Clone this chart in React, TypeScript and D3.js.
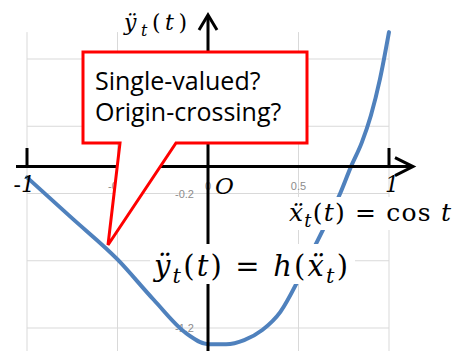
import React from "react";
import * as d3 from "d3";

// Response curve h, sampled along the horizontal axis
const xVals = [-1, -0.75, -0.5, -0.3, -0.12, 0, 0.1, 0.2, 0.3, 0.4, 0.5, 0.58, 0.65, 0.73, 0.79, 0.85, 0.9, 0.95, 1];
const yVals = [-0.08, -0.385, -0.69, -0.99, -1.24, -1.32, -1.32, -1.29, -1.215, -1.08, -0.84, -0.62, -0.43, -0.2, 0.0, 0.18, 0.38, 0.65, 1.0];

// Spreadsheet-style grid ticks
const xGrid = [-1, -0.5, 0, 0.5, 1];
const yGrid = [0.8, 0.3, -0.2, -0.7, -1.2];
// Grid tick labels that remain uncovered
const xTickLabels = [-0.5, 0, 0.5];
const yTickLabels = [-0.2, -1.2];

const calloutLines = ["Single-valued?", "Origin-crossing?"];

const W = 452;
const H = 351;

type Seg = { t: string; i?: boolean; sub?: boolean };

function MathText({ x, y, size, len, segs }: { x: number; y: number; size: number; len: number; segs: Seg[] }) {
  let prevSub = false;
  return (
    <text
      x={x}
      y={y}
      fontFamily="'DejaVu Serif', serif"
      fontSize={size}
      fill="#000"
      textLength={len}
      lengthAdjust="spacing"
    >
      {segs.map((s, k) => {
        let dy = 0;
        if (s.sub && !prevSub) dy = size * 0.25;
        if (!s.sub && prevSub) dy = -size * 0.25;
        prevSub = !!s.sub;
        return (
          <tspan key={k} dy={dy} fontStyle={s.i ? "italic" : "normal"} fontSize={s.sub ? size * 0.72 : size}>
            {s.t}
          </tspan>
        );
      })}
    </text>
  );
}

export default function App() {
  const x = d3.scaleLinear().domain([-1, 1]).range([27, 389]);
  const y = d3.scaleLinear().domain([-1.2, 0.8]).range([328, 59]);
  const top = y(1.0);

  const pts: [number, number][] = xVals.map((v, k) => [v, yVals[k]]);
  const line = d3
    .line<[number, number]>()
    .x((d) => x(d[0]))
    .y((d) => y(d[1]))
    .curve(d3.curveMonotoneX);

  const x0 = x(0);
  const y0 = y(0);
  const grid = "#d9d9d9";
  const tickGray = "#8c8c8c";

  // callout geometry
  const cL = 83, cR = 307, cT = 52, cB = 143;
  const tailA = 120, tailB = 176, tipX = 108, tipY = 245;
  const calloutPath = `M${cL},${cT} H${cR} V${cB} H${tailB} L${tipX},${tipY} L${tailA},${cB} H${cL} Z`;

  return (
    <svg width={W} height={H} style={{ position: "absolute", left: 0, top: 0, background: "#fff" }}>
      {/* grid */}
      {xGrid.map((v) => (
        <line key={"gx" + v} x1={x(v)} x2={x(v)} y1={top} y2={H} stroke={grid} strokeWidth={1} />
      ))}
      {yGrid.map((v) => (
        <line key={"gy" + v} x1={x(-1)} x2={x(1)} y1={y(v)} y2={y(v)} stroke={grid} strokeWidth={1} />
      ))}

      {/* small tick labels */}
      {xTickLabels.map((v) => (
        <text key={"tx" + v} x={x(v)} y={190} textAnchor="middle" fontFamily="'Liberation Sans', sans-serif" fontSize={11} fill={tickGray}>
          {String(v)}
        </text>
      ))}
      {yTickLabels.map((v) => (
        <text key={"ty" + v} x={194} y={y(v) + 4} textAnchor="end" fontFamily="'Liberation Sans', sans-serif" fontSize={11} fill={tickGray}>
          {v.toFixed(1)}
        </text>
      ))}

      {/* curve */}
      <path d={line(pts) || ""} fill="none" stroke="#4f81bd" strokeWidth={4} strokeLinecap="round" />

      {/* axes */}
      <line x1={16} x2={411} y1={y0} y2={y0} stroke="#000" strokeWidth={3} />
      <polyline points={`${x(1) + 6},${y0 - 9} ${413},${y0} ${x(1) + 6},${y0 + 9}`} fill="none" stroke="#000" strokeWidth={3} />
      <line x1={x0} x2={x0} y1={H} y2={17} stroke="#000" strokeWidth={3} />
      <polyline points={`${x0 - 9},${30} ${x0},${15} ${x0 + 9},${30}`} fill="none" stroke="#000" strokeWidth={3} />
      <line x1={x(-1)} x2={x(-1)} y1={148} y2={y0} stroke="#000" strokeWidth={3} />
      <line x1={x(1)} x2={x(1)} y1={148} y2={y0} stroke="#000" strokeWidth={3} />

      {/* end labels */}
      <text x={35} y={192} textAnchor="end" fontFamily="'DejaVu Serif', serif" fontSize={22} fill="#000">
        <tspan>-</tspan>
        <tspan fontStyle="italic">1</tspan>
      </text>
      <text x={392} y={192} textAnchor="middle" fontFamily="'DejaVu Serif', serif" fontStyle="italic" fontSize={22} fill="#000">
        1
      </text>
      <text x={215} y={194} fontFamily="'DejaVu Serif', serif" fontStyle="italic" fontSize={23} fill="#000">
        O
      </text>

      {/* callout */}
      <path d={calloutPath} fill="#fff" stroke="#ff0000" strokeWidth={3} strokeLinejoin="miter" />
      {calloutLines.map((s, k) => (
        <text key={s} x={95} y={90 + k * 31} fontFamily="'Open Sans', sans-serif" fontSize={25} fill="#000">
          {s}
        </text>
      ))}

      {/* formula labels */}
      <MathText
        x={124}
        y={30}
        size={22}
        len={63}
        segs={[{ t: "ÿ", i: true }, { t: "t", i: true, sub: true }, { t: "(" }, { t: "t", i: true }, { t: ")" }]}
      />

      <rect x={284} y={197} width={168} height={33} fill="#fff" />
      <MathText
        x={289}
        y={221}
        size={25}
        len={162}
        segs={[
          { t: "ẍ", i: true },
          { t: "t", i: true, sub: true },
          { t: "(" },
          { t: "t", i: true },
          { t: ") = cos " },
          { t: "t", i: true },
        ]}
      />

      <rect x={150} y={244} width={205} height={40} fill="#fff" />
      <MathText
        x={154}
        y={276}
        size={29}
        len={194}
        segs={[
          { t: "ÿ", i: true },
          { t: "t", i: true, sub: true },
          { t: "(" },
          { t: "t", i: true },
          { t: ") = " },
          { t: "h", i: true },
          { t: "(" },
          { t: "ẍ", i: true },
          { t: "t", i: true, sub: true },
          { t: ")" },
        ]}
      />
    </svg>
  );
}
